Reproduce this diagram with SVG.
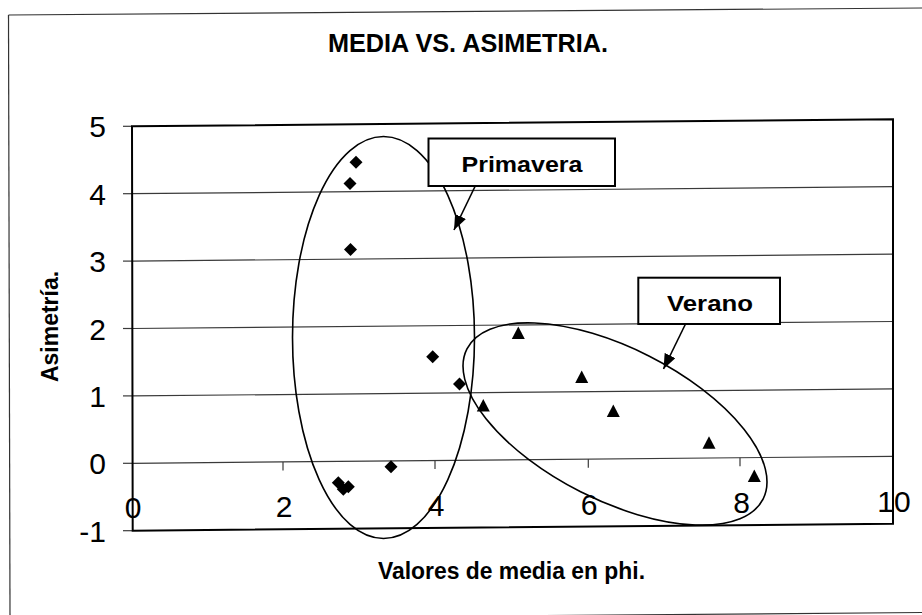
<svg xmlns="http://www.w3.org/2000/svg" width="922" height="615" viewBox="0 0 922 615">
<style>
.t{font-family:"Liberation Sans",Arial,sans-serif;fill:#000}
.b{font-weight:bold}
.tick{font-size:30px}
.grid{stroke:#3a3a3a;stroke-width:1.2;fill:none}
.ax{stroke:#000;stroke-width:2;fill:none}
.ell{stroke:#000;stroke-width:1.6;fill:none}
.box{fill:#fff;stroke:#000;stroke-width:2}
.conn{stroke:#000;stroke-width:1.6;fill:none}
</style>
<defs>
<path id="dia" d="M0,-6.5 L6.5,0 L0,6.5 L-6.5,0 Z" fill="#000"/>
<path id="tri" d="M0,-6.5 L6.5,6 L-6.5,6 Z" fill="#000"/>
<marker id="ah" viewBox="0 0 15 12" refX="15" refY="6" markerWidth="15" markerHeight="12" markerUnits="userSpaceOnUse" orient="auto">
<path d="M0,0 L15,6 L0,12 Z" fill="#000"/>
</marker>
</defs>
<rect x="0" y="0" width="922" height="615" fill="#fff"/>
<!-- outer frame -->
<g id="frame" stroke="#333" stroke-width="1.2" fill="none">
<line x1="8.5" y1="15" x2="922" y2="8"/>
<line x1="8.5" y1="15" x2="10" y2="615"/>
<line x1="9" y1="620" x2="922" y2="612.5"/>
</g>
<text class="t b" x="468" y="51.5" font-size="25" text-anchor="middle" textLength="280" lengthAdjust="spacingAndGlyphs">MEDIA VS. ASIMETRIA.</text>
<!-- gridlines -->
<g id="grid" class="grid">
<line x1="132" y1="193.7" x2="893" y2="186.7"/>
<line x1="132" y1="261.1" x2="893" y2="254.1"/>
<line x1="132" y1="328.5" x2="893" y2="321.5"/>
<line x1="132" y1="395.9" x2="893" y2="388.9"/>
<line x1="132" y1="463.3" x2="893" y2="456.3"/>
<line x1="123" y1="126.3" x2="132" y2="126.3"/>
<line x1="123" y1="193.7" x2="132" y2="193.7"/>
<line x1="123" y1="261.1" x2="132" y2="261.1"/>
<line x1="123" y1="328.5" x2="132" y2="328.5"/>
<line x1="123" y1="395.9" x2="132" y2="395.9"/>
<line x1="123" y1="463.3" x2="132" y2="463.3"/>
<line x1="123" y1="530.7" x2="132" y2="530.7"/>
<line x1="283" y1="461.9" x2="283" y2="470.5"/>
<line x1="435" y1="460.5" x2="435" y2="469"/>
<line x1="588.3" y1="459.1" x2="588.3" y2="467.7"/>
<line x1="740" y1="457.7" x2="740" y2="466.3"/>
</g>
<g id="plotframe" class="ax">
<polygon points="132,126.3 893,119.3 893,523.7 132.7,530.7"/>
</g>
<!-- tick labels -->
<g id="ylabels" class="t tick" text-anchor="end">
<text x="106" y="137.3">5</text>
<text x="106" y="204.7">4</text>
<text x="106" y="272.1">3</text>
<text x="106" y="339.5">2</text>
<text x="106" y="406.9">1</text>
<text x="106" y="474.3">0</text>
<text x="106" y="541.7">-1</text>
</g>
<g id="xlabels" class="t tick" text-anchor="middle">
<text x="133" y="517.5">0</text>
<text x="284" y="517">2</text>
<text x="436" y="515.5">4</text>
<text x="589" y="514.5">6</text>
<text x="741.5" y="512.5">8</text>
<text x="894" y="511.5">10</text>
</g>
<text class="t b" x="511.5" y="579" font-size="23" text-anchor="middle" textLength="267" lengthAdjust="spacingAndGlyphs">Valores de media en phi.</text>
<text class="t b" font-size="23" text-anchor="middle" transform="translate(58,326.5) rotate(-90)">Asimetría.</text>
<!-- cluster outlines -->
<g id="outlines">
<ellipse class="ell" cx="383.5" cy="337.5" rx="91" ry="201"/>
<ellipse class="ell" cx="615" cy="424" rx="166" ry="76" transform="rotate(26.9 615 424)"/>
</g>
<!-- data points -->
<g id="primavera-points">
<use href="#dia" x="356" y="162.3"/>
<use href="#dia" x="350" y="183.5"/>
<use href="#dia" x="350.5" y="249.5"/>
<use href="#dia" x="432.7" y="356.7"/>
<use href="#dia" x="459.5" y="384"/>
<use href="#dia" x="391" y="466.7"/>
<use href="#dia" x="338.3" y="482.7"/>
<use href="#dia" x="348.3" y="486.7"/>
<use href="#dia" x="343.3" y="489.3"/>
</g>
<g id="verano-points">
<use href="#tri" x="518.3" y="333"/>
<use href="#tri" x="581.7" y="377"/>
<use href="#tri" x="483.3" y="405.5"/>
<use href="#tri" x="613.3" y="411"/>
<use href="#tri" x="709" y="442.7"/>
<use href="#tri" x="754.3" y="476"/>
</g>
<!-- callout nodes -->
<g id="node-primavera">
<rect class="box" x="428.5" y="138.5" width="186.5" height="47.5"/>
<text class="t b" x="522" y="171.7" font-size="22" text-anchor="middle" textLength="121" lengthAdjust="spacingAndGlyphs">Primavera</text>
</g>
<g id="node-verano">
<rect class="box" x="638.3" y="277.7" width="141.7" height="46.3"/>
<text class="t b" x="710" y="310.7" font-size="22" text-anchor="middle" textLength="86" lengthAdjust="spacingAndGlyphs">Verano</text>
</g>
<g id="connectors" class="conn">
<line x1="475" y1="186.5" x2="454" y2="230" marker-end="url(#ah)"/>
<line x1="685.5" y1="324" x2="663.5" y2="369" marker-end="url(#ah)"/>
</g>
</svg>
